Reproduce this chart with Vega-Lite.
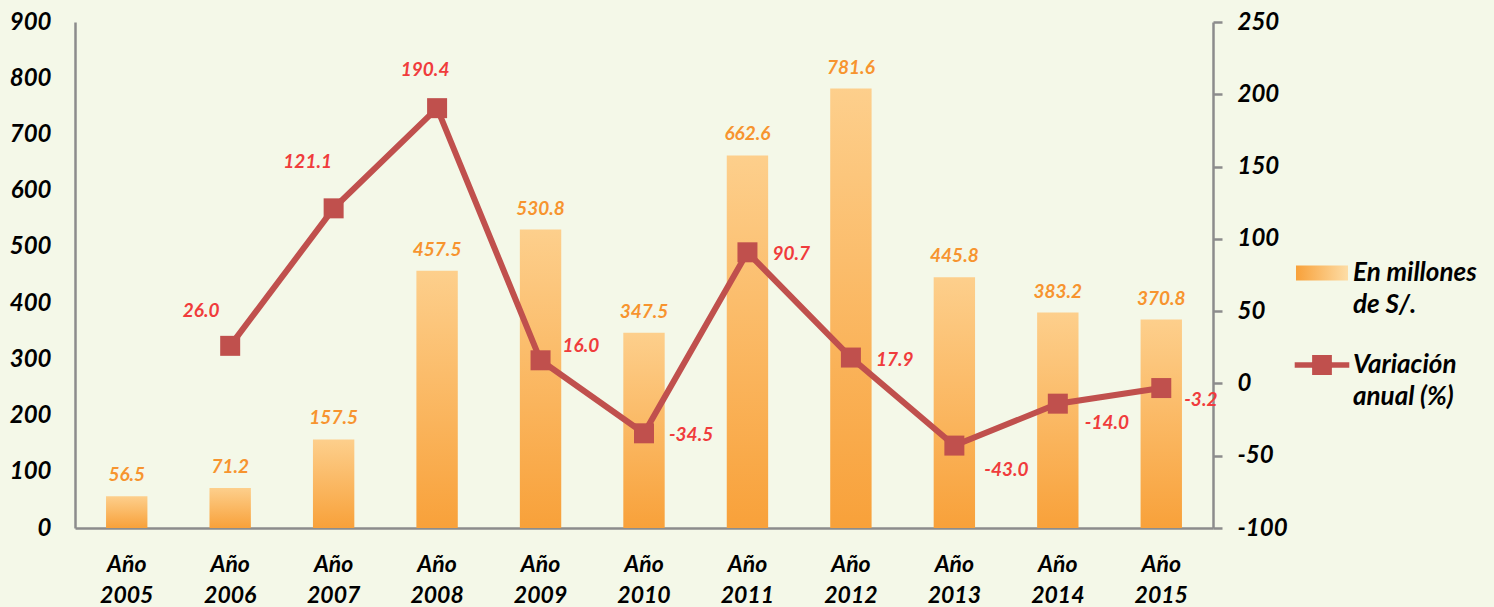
{
  "$schema": "https://vega.github.io/schema/vega-lite/v6.json",
  "width": 1138,
  "height": 506,
  "autosize": "none",
  "padding": {"left": 75, "top": 22, "right": 281, "bottom": 79},
  "background": "#F4F8E8",
  "config": {
    "view": {"stroke": null},
    "font": "Lato",
    "axis": {
      "domainColor": "#8C8C8C",
      "domainWidth": 2.5,
      "labelFont": "Lato",
      "labelFontSize": 24,
      "labelFontWeight": "bold",
      "labelFontStyle": "italic",
      "labelColor": "#000000",
      "grid": false,
      "title": null
    }
  },
  "data": {
    "values": [
      {"year": "2005", "monto": 56.5, "variacion": null},
      {"year": "2006", "monto": 71.2, "variacion": 26.0},
      {"year": "2007", "monto": 157.5, "variacion": 121.1},
      {"year": "2008", "monto": 457.5, "variacion": 190.4},
      {"year": "2009", "monto": 530.8, "variacion": 16.0},
      {"year": "2010", "monto": 347.5, "variacion": -34.5},
      {"year": "2011", "monto": 662.6, "variacion": 90.7},
      {"year": "2012", "monto": 781.6, "variacion": 17.9},
      {"year": "2013", "monto": 445.8, "variacion": -43.0},
      {"year": "2014", "monto": 383.2, "variacion": -14.0},
      {"year": "2015", "monto": 370.8, "variacion": -3.2}
    ]
  },
  "encoding": {
    "x": {
      "field": "year",
      "type": "ordinal",
      "sort": null,
      "scale": {"paddingInner": 0.6, "paddingOuter": 0.3},
      "axis": {
        "title": null,
        "labelAngle": 0,
        "ticks": false,
        "labelPadding": 25,
        "labelBaseline": "top",
        "labelLineHeight": 31,
        "labelFontSize": 23,
        "labelExpr": "['Año', datum.label]"
      }
    }
  },
  "layer": [
    {
      "encoding": {
        "y": {
          "field": "monto",
          "type": "quantitative",
          "scale": {"domain": [0, 900], "nice": false},
          "axis": {
            "orient": "left",
            "values": [0, 100, 200, 300, 400, 500, 600, 700, 800, 900],
            "ticks": false,
            "labelPadding": 24,
            "title": null
          }
        }
      },
      "layer": [
        {
          "mark": {
            "type": "bar",
            "color": {
              "gradient": "linear",
              "x1": 0, "y1": 1, "x2": 0, "y2": 0,
              "stops": [
                {"offset": 0, "color": "#F8A13A"},
                {"offset": 1, "color": "#FDCF8C"}
              ]
            }
          }
        },
        {
          "mark": {
            "type": "text",
            "dy": -21,
            "font": "Lato",
            "fontSize": 19,
            "fontWeight": "bold",
            "fontStyle": "italic",
            "color": "#F7942F"
          },
          "encoding": {"text": {"field": "monto", "type": "quantitative", "format": ".1f"}}
        }
      ]
    },
    {
      "transform": [
        {"filter": "datum.variacion != null"},
        {"calculate": "replace(format(datum.variacion, '.1f'), '−', '-')", "as": "etiqueta"}
      ],
      "encoding": {
        "y": {
          "field": "variacion",
          "type": "quantitative",
          "scale": {"domain": [-100, 250], "nice": false},
          "axis": {
            "orient": "right",
            "values": [-100, -50, 0, 50, 100, 150, 200, 250],
            "ticks": true,
            "tickSize": 9,
            "tickColor": "#8C8C8C",
            "tickWidth": 2.5,
            "labelPadding": 15,
            "labelExpr": "replace(datum.label, '−', '-')",
            "title": null
          }
        }
      },
      "layer": [
        {
          "mark": {"type": "line", "strokeWidth": 6},
          "encoding": {
            "stroke": {
              "datum": "Variación anual (%)",
              "type": "nominal",
              "scale": {
                "domain": ["En millones de S/.", "Variación anual (%)"],
                "range": ["#F8A13A", "#C0504D"]
              },
              "legend": {
                "title": null,
                "orient": "none",
                "legendX": 1221,
                "legendY": 225,
                "padding": 0,
                "direction": "vertical",
                "symbolSize": 2704,
                "symbolStrokeWidth": 0,
                "rowPadding": 21,
                "labelOffset": 5,
                "labelFont": "Lato",
                "labelFontSize": 26,
                "labelFontWeight": "bold",
                "labelFontStyle": "italic",
                "labelColor": "#000000",
                "labelLimit": 300,
                "labelExpr": "datum.label == 'En millones de S/.' ? ['En millones', 'de S/.'] : ['Variación', 'anual (%)']",
                "encoding": {
                  "labels": {"lineHeight": {"value": 32}},
                  "symbols": {
                    "shape": {
                      "condition": {"test": "datum.value === 'En millones de S/.'", "value": "M-1,-0.29H1V0.29H-1Z"},
                      "value": "M-1.05,-0.11H1.05V0.11H-1.05Z M-0.38,-0.38H0.38V0.38H-0.38Z"
                    },
                    "fill": {
                      "condition": {"test": "datum.value === 'En millones de S/.'", "value": {
                        "gradient": "linear", "x1": 0, "y1": 0, "x2": 1, "y2": 0,
                        "stops": [{"offset": 0, "color": "#F8A13A"}, {"offset": 1, "color": "#FDDDA6"}]
                      }},
                      "value": "#C0504D"
                    },
                    "fillOpacity": {"value": 1},
                    "opacity": {"value": 1},
                    "strokeWidth": {"value": 0}
                  }
                }
              }
            }
          }
        },
        {
          "mark": {"type": "point", "shape": "square", "filled": true, "size": 400, "opacity": 1, "color": "#C0504D"}
        },
        {
          "transform": [{"filter": {"field": "year", "oneOf": ["2006"]}}],
          "mark": {"type": "text", "dx": -29, "dy": -35, "font": "Lato", "fontSize": 19, "fontWeight": "bold", "fontStyle": "italic", "color": "#F03C3C"},
          "encoding": {"text": {"field": "etiqueta", "type": "nominal"}}
        },
        {
          "transform": [{"filter": {"field": "year", "oneOf": ["2007"]}}],
          "mark": {"type": "text", "dx": -26, "dy": -46, "font": "Lato", "fontSize": 19, "fontWeight": "bold", "fontStyle": "italic", "color": "#F03C3C"},
          "encoding": {"text": {"field": "etiqueta", "type": "nominal"}}
        },
        {
          "transform": [{"filter": {"field": "year", "oneOf": ["2008"]}}],
          "mark": {"type": "text", "dx": -12, "dy": -38, "font": "Lato", "fontSize": 19, "fontWeight": "bold", "fontStyle": "italic", "color": "#F03C3C"},
          "encoding": {"text": {"field": "etiqueta", "type": "nominal"}}
        },
        {
          "transform": [{"filter": {"field": "year", "oneOf": ["2009"]}}],
          "mark": {"type": "text", "align": "left", "dx": 22, "dy": -14, "font": "Lato", "fontSize": 19, "fontWeight": "bold", "fontStyle": "italic", "color": "#F03C3C"},
          "encoding": {"text": {"field": "etiqueta", "type": "nominal"}}
        },
        {
          "transform": [{"filter": {"field": "year", "oneOf": ["2010", "2011", "2012"]}}],
          "mark": {"type": "text", "align": "left", "dx": 25, "dy": 2, "font": "Lato", "fontSize": 19, "fontWeight": "bold", "fontStyle": "italic", "color": "#F03C3C"},
          "encoding": {"text": {"field": "etiqueta", "type": "nominal"}}
        },
        {
          "transform": [{"filter": {"field": "year", "oneOf": ["2013"]}}],
          "mark": {"type": "text", "align": "left", "dx": 30, "dy": 24, "font": "Lato", "fontSize": 19, "fontWeight": "bold", "fontStyle": "italic", "color": "#F03C3C"},
          "encoding": {"text": {"field": "etiqueta", "type": "nominal"}}
        },
        {
          "transform": [{"filter": {"field": "year", "oneOf": ["2014"]}}],
          "mark": {"type": "text", "align": "left", "dx": 27, "dy": 19, "font": "Lato", "fontSize": 19, "fontWeight": "bold", "fontStyle": "italic", "color": "#F03C3C"},
          "encoding": {"text": {"field": "etiqueta", "type": "nominal"}}
        },
        {
          "transform": [{"filter": {"field": "year", "oneOf": ["2015"]}}],
          "mark": {"type": "text", "align": "left", "dx": 23, "dy": 12, "font": "Lato", "fontSize": 19, "fontWeight": "bold", "fontStyle": "italic", "color": "#F03C3C"},
          "encoding": {"text": {"field": "etiqueta", "type": "nominal"}}
        }
      ]
    }
  ],
  "resolve": {"scale": {"y": "independent"}}
}
